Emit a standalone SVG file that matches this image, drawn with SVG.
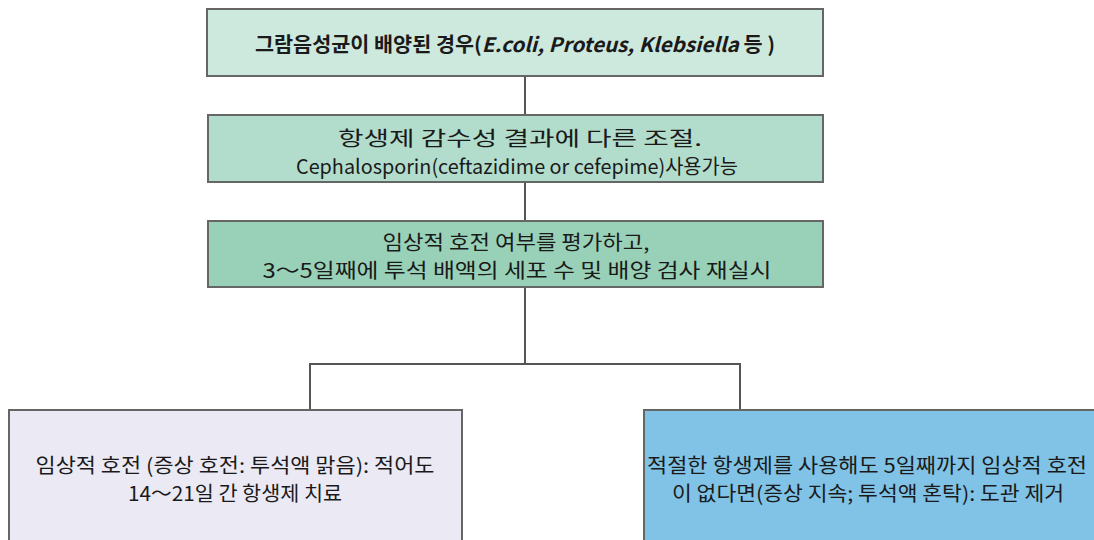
<svg xmlns="http://www.w3.org/2000/svg" width="1094" height="540" viewBox="0 0 1094 540">
<style>
.box{stroke:#666;stroke-width:2}
.t{font-family:"Noto Sans CJK KR","Liberation Sans",sans-serif;font-size:20px;fill:#1a1a1a;text-anchor:middle}
.b{font-weight:bold}
.i{font-style:italic}
.c{stroke:#555;stroke-width:2;fill:none}
</style>
<rect width="1094" height="540" fill="#fff"/>
<g id="connectors">
<line class="c" x1="525" y1="76" x2="525" y2="115"/>
<line class="c" x1="525" y1="182" x2="525" y2="221"/>
<polyline class="c" points="525,287 525,364 310,364 310,410"/>
<polyline class="c" points="525,364 740,364 740,410"/>
</g>
<g id="n1">
<rect class="box" x="207" y="9" width="616" height="67" fill="#cde8dd"/>
<text class="t b" x="515" y="52" textLength="520" lengthAdjust="spacingAndGlyphs">그람음성균이 배양된 경우(<tspan class="i">E.coli, Proteus, Klebsiella</tspan> 등 )</text>
</g>
<g id="n2">
<rect class="box" x="208" y="115" width="615" height="67" fill="#b2dccb"/>
<text class="t" x="520" y="146" textLength="364" lengthAdjust="spacingAndGlyphs">항생제 감수성 결과에 다른 조절.</text>
<text class="t" x="517" y="174" textLength="442" lengthAdjust="spacingAndGlyphs">Cephalosporin(ceftazidime or cefepime)사용가능</text>
</g>
<g id="n3">
<rect class="box" x="208" y="221" width="615" height="66" fill="#99d1b8"/>
<text class="t" x="516" y="250" textLength="267" lengthAdjust="spacingAndGlyphs">임상적 호전 여부를 평가하고,</text>
<text class="t" x="517" y="278" textLength="509" lengthAdjust="spacingAndGlyphs">3～5일째에 투석 배액의 세포 수 및 배양 검사 재실시</text>
</g>
<g id="n4">
<rect class="box" x="9" y="410" width="453" height="140" fill="#ebe9f4"/>
<text class="t" x="235" y="473" textLength="399" lengthAdjust="spacingAndGlyphs">임상적 호전 (증상 호전: 투석액 맑음): 적어도</text>
<text class="t" x="235" y="501" textLength="214" lengthAdjust="spacingAndGlyphs">14～21일 간 항생제 치료</text>
</g>
<g id="n5">
<rect class="box" x="644" y="410" width="460" height="140" fill="#80c3e6"/>
<text class="t" x="867" y="473" textLength="440" lengthAdjust="spacingAndGlyphs">적절한 항생제를 사용해도 5일째까지 임상적 호전</text>
<text class="t" x="868" y="501" textLength="392" lengthAdjust="spacingAndGlyphs">이 없다면(증상 지속; 투석액 혼탁): 도관 제거</text>
</g>
</svg>
